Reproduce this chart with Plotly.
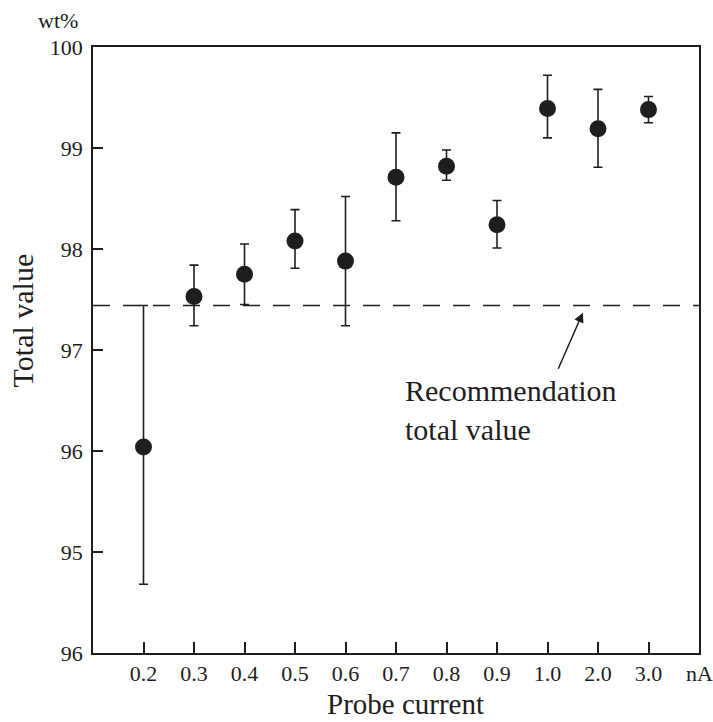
import plotly.graph_objects as go

categories = ["0.2", "0.3", "0.4", "0.5", "0.6", "0.7", "0.8", "0.9", "1.0", "2.0", "3.0"]
totals = [96.04, 97.53, 97.75, 98.08, 97.88, 98.71, 98.82, 98.24, 99.39, 99.19, 99.38]
err_upper = [97.44, 97.84, 98.05, 98.39, 98.52, 99.15, 98.98, 98.48, 99.72, 99.58, 99.51]
err_lower = [94.68, 97.24, 97.45, 97.81, 97.24, 98.28, 98.68, 98.01, 99.10, 98.81, 99.25]
recommendation = 97.44
y_tickvals = [94, 95, 96, 97, 98, 99, 100]
y_ticktext = ["96", "95", "96", "97", "98", "99", "100"]

xpos = list(range(1, len(categories) + 1))
plus = [u - t for u, t in zip(err_upper, totals)]
minus = [t - l for t, l in zip(totals, err_lower)]

FONT = "Liberation Serif"
INK = "#1e1e1e"

fig = go.Figure()
fig.add_trace(go.Scatter(
    x=xpos, y=totals, mode="markers",
    marker=dict(size=17, color=INK, symbol="circle"),
    error_y=dict(type="data", symmetric=False, array=plus, arrayminus=minus,
                 color=INK, thickness=1.6, width=4.5),
    showlegend=False,
))

fig.add_shape(type="line", xref="x", yref="y", x0=0, x1=12,
              y0=recommendation, y1=recommendation,
              line=dict(color=INK, width=1.4, dash="17px,13px"))

fig.add_annotation(x=9.70, y=97.37, ax=9.20, ay=96.80, xref="x", yref="y",
                   axref="x", ayref="y", showarrow=True, arrowhead=2,
                   arrowsize=1.3, arrowwidth=1.5, arrowcolor=INK, text="")
fig.add_annotation(x=6.14, y=96.41, xref="x", yref="y", xanchor="left", yanchor="middle",
                   align="left", showarrow=False,
                   text="Recommendation<br>total value",
                   font=dict(family=FONT, size=30, color=INK))
fig.add_annotation(x=12, y=0, xref="x", yref="paper", yanchor="middle", yshift=-20,
                   showarrow=False,
                   text="nA", font=dict(family=FONT, size=22, color=INK))
fig.add_annotation(xref="paper", yref="paper", x=-0.0578, y=1.0, yshift=27,
                   xanchor="center", yanchor="middle", showarrow=False,
                   text="wt%", font=dict(family=FONT, size=22, color=INK))
fig.add_annotation(xref="paper", yref="paper", x=-0.1163, y=0.548, textangle=-90,
                   xanchor="center", yanchor="middle",
                   showarrow=False, text="Total value",
                   font=dict(family=FONT, size=30, color=INK))
fig.add_annotation(xref="paper", yref="paper", x=0.515, y=0, yshift=-51,
                   xanchor="center", yanchor="middle",
                   showarrow=False, text="Probe current",
                   font=dict(family=FONT, size=29, color=INK))

fig.update_layout(
    width=713, height=722,
    margin=dict(l=93, r=14, t=47, b=69),
    paper_bgcolor="white", plot_bgcolor="white",
    font=dict(family=FONT, size=22, color=INK),
)
fig.update_xaxes(range=[0, 12], tickvals=xpos, ticktext=categories,
                 ticks="inside", ticklen=11, tickwidth=1.5, tickcolor=INK,
                 showline=True, linecolor=INK, linewidth=1.6, mirror=True,
                 showgrid=False, zeroline=False,
                 tickfont=dict(family=FONT, size=22, color=INK))
fig.update_yaxes(range=[94, 100], tickvals=y_tickvals, ticktext=y_ticktext,
                 ticks="inside", ticklen=10, tickwidth=1.5, tickcolor=INK,
                 ticklabelstandoff=4,
                 showline=True, linecolor=INK, linewidth=1.6, mirror=True,
                 showgrid=False, zeroline=False,
                 tickfont=dict(family=FONT, size=22, color=INK))

fig.write_html("out.html")
